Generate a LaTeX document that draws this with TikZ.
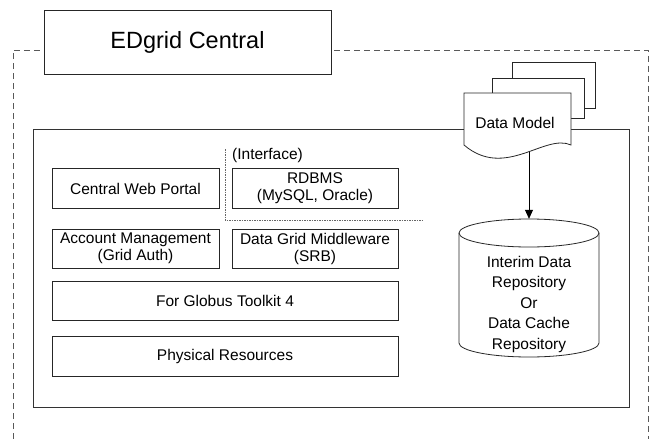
\documentclass[tikz,border=0pt]{standalone}
\usepackage{fontspec}
\setmainfont{Liberation Sans}
\usetikzlibrary{arrows.meta}
\begin{document}
\begin{tikzpicture}[x=1pt,y=-1pt,
  every node/.style={font=\fontsize{15.5}{17}\selectfont},
  box/.style={draw=black!85, line width=0.8pt, fill=white, align=center, inner sep=0pt},
  frame/.style={draw=black!80, line width=0.8pt},
  outerdash/.style={draw=black!65, line width=0.8pt, dash pattern=on 6pt off 4pt},
  ifdash/.style={draw=black!60, line width=0.7pt, dash pattern=on 1.5pt off 1pt},
  doc/.style={draw=black!85, line width=0.8pt, fill=white},
  arr/.style={draw=black, line width=0.8pt, -{Triangle[length=9pt,width=8pt]}},
  cylline/.style={draw=black!85, line width=0.8pt, fill=white}
]
\useasboundingbox (0,0) rectangle (651,439);
% outer dashed region
\draw[outerdash] (13,439) -- (13,50) -- (648,50) -- (648,439);
\node[box, minimum width=287pt, minimum height=64pt, font=\fontsize{23.5}{28}\selectfont] (edgrid) at (187.5,42) {EDgrid Central};
% inner frame
\node[frame, minimum width=596pt, minimum height=278pt, inner sep=0pt] (core) at (331,268) {};
% data model stack
\node[doc, minimum width=83pt, minimum height=46pt, inner sep=0pt] (dmback) at (553.5,85) {};
\node[doc, minimum width=92pt, minimum height=40pt, inner sep=0pt] (dmmid) at (538,98) {};
\draw[doc] (464,93) -- (571,93) -- (571,145) .. controls (545,133) and (505,180) .. (464,145) -- cycle;
\node (dm) at (515,123) {Data Model};
\coordinate (dmbot) at (529,151.5);
% layer boxes
\node[box, minimum width=167pt, minimum height=40pt] (cwp) at (135.5,188.5) {Central Web Portal};
\node[box, minimum width=166pt, minimum height=40pt] (rdbms) at (315,188.5) {RDBMS\\(MySQL, Oracle)};
\node[box, minimum width=167pt, minimum height=39pt] (acct) at (135.5,248.5) {Account Management\\(Grid Auth)};
\node[box, minimum width=166pt, minimum height=39pt] (dgm) at (315,248.5) {Data Grid Middleware\\(SRB)};
\node[box, minimum width=346pt, minimum height=39pt] (globus) at (225,300.5) {For Globus Toolkit 4};
\node[box, minimum width=346pt, minimum height=40pt] (phys) at (225,356) {Physical Resources};
% interface
\coordinate (ifa) at (225,149);
\coordinate (ifb) at (225,220);
\coordinate (ifc) at (422,220);
\draw[ifdash] (ifa) -- (ifb) -- (ifc);
\node[anchor=west, inner sep=0pt] (iface) at (232,155) {(Interface)};
% repository (cylinder)
\node[minimum width=140pt, minimum height=138pt, inner sep=0pt] (repo) at (529,288) {};
\draw[cylline] (459,233) -- (459,343)
  .. controls (459,350.7) and (490.3,357) .. (529,357)
  .. controls (567.7,357) and (599,350.7) .. (599,343)
  -- (599,233)
  .. controls (599,225.3) and (567.7,219) .. (529,219)
  .. controls (490.3,219) and (459,225.3) .. (459,233) -- cycle;
\draw[cylline, fill=none] (459,233) .. controls (459,240.7) and (490.3,247) .. (529,247)
  .. controls (567.7,247) and (599,240.7) .. (599,233);
\node[align=center, font=\fontsize{15.5}{20.5}\selectfont] (repotxt) at (529,304) {Interim Data\\Repository\\Or\\Data Cache\\Repository};
\draw[arr] (dmbot) -- (repo.north);
\end{tikzpicture}
\end{document}
